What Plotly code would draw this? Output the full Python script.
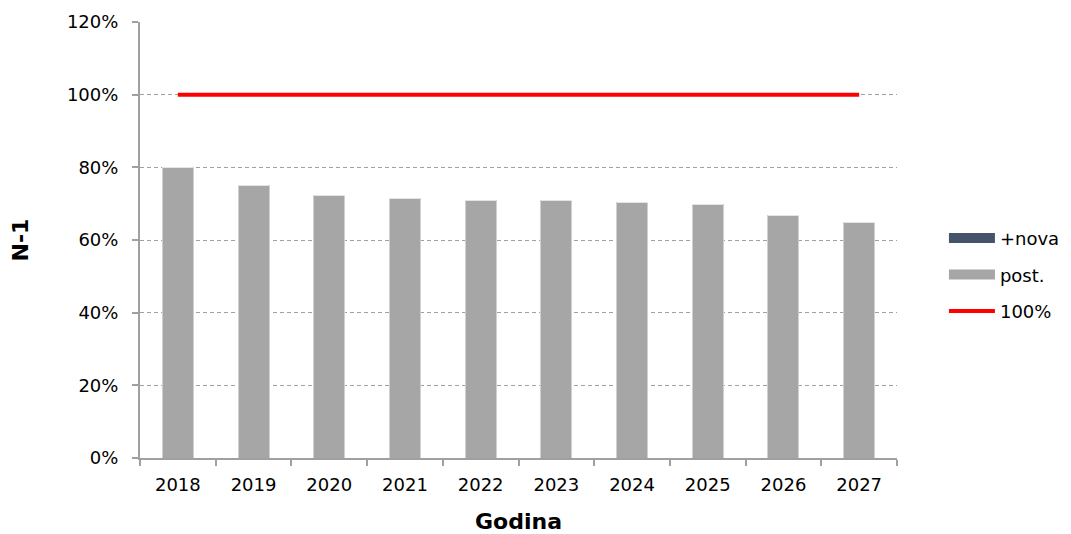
import plotly.graph_objects as go

years = ["2018", "2019", "2020", "2021", "2022", "2023", "2024", "2025", "2026", "2027"]
post_vals = [0.800, 0.751, 0.722, 0.714, 0.709, 0.709, 0.703, 0.698, 0.668, 0.649]
nova_vals = [0, 0, 0, 0, 0, 0, 0, 0, 0, 0]
limit_vals = [1.0] * len(years)
y_ticks = [0, 0.2, 0.4, 0.6, 0.8, 1.0, 1.2]

COLOR_NOVA = "#44546A"
COLOR_POST = "#A6A6A6"
COLOR_LIMIT = "#FF0000"
AXIS_GRAY = "#A0A0A0"

fig = go.Figure()
fig.add_trace(go.Bar(
    x=years, y=post_vals, name="post.",
    marker=dict(color=COLOR_POST, line=dict(color="#D0D0D0", width=1)),
    showlegend=False,
))
fig.add_trace(go.Bar(
    x=years, y=nova_vals, name="+nova",
    marker=dict(color=COLOR_NOVA),
    showlegend=False,
))
fig.add_trace(go.Scatter(
    x=years, y=limit_vals, name="100%", mode="lines",
    line=dict(color=COLOR_LIMIT, width=4),
    legendgroup="c", legendrank=3,
))

# legend swatches drawn as wide blocks, like the original
for name, color, group, rank in [("+nova", COLOR_NOVA, "a", 1), ("post.", COLOR_POST, "b", 2)]:
    fig.add_trace(go.Scatter(
        x=[None], y=[None], name=name, mode="lines",
        line=dict(color=color, width=12),
        legendgroup=group, legendrank=rank,
    ))

# page body adds an 8px offset, so the figure is 8px smaller than the window
fig.update_layout(
    width=1063, height=526,
    barmode="stack", bargap=0.59,
    plot_bgcolor="white", paper_bgcolor="white",
    margin=dict(l=132, r=174, t=14, b=76, autoexpand=False),
    font=dict(family="DejaVu Sans", size=18, color="#000000"),
    legend=dict(
        x=1.062, xanchor="left", y=0.42, yanchor="middle",
        traceorder="grouped", tracegroupgap=10,
        font=dict(size=18), itemwidth=46,
    ),
    xaxis=dict(
        type="category", automargin=False,
        title=dict(text="<b>Godina</b>", font=dict(family="DejaVu Sans", size=22), standoff=33),
        showline=True, linecolor=AXIS_GRAY, linewidth=2,
        ticks="outside", tickson="boundaries", ticklen=6, tickcolor=AXIS_GRAY, tickwidth=2,
        ticklabelstandoff=9,
        showgrid=False,
    ),
    yaxis=dict(
        automargin=False,
        title=dict(text="<b>N-1</b>", font=dict(family="DejaVu Sans", size=22), standoff=36),
        range=[0, 1.2], tickvals=y_ticks, tickformat=".0%",
        showline=True, linecolor=AXIS_GRAY, linewidth=2,
        ticks="outside", ticklen=6, tickcolor=AXIS_GRAY, tickwidth=2,
        ticklabelstandoff=10,
        showgrid=True, gridcolor="#A0A0A0", griddash="4px,3px", gridwidth=1,
        zeroline=False,
    ),
)

fig.write_html("out.html")
